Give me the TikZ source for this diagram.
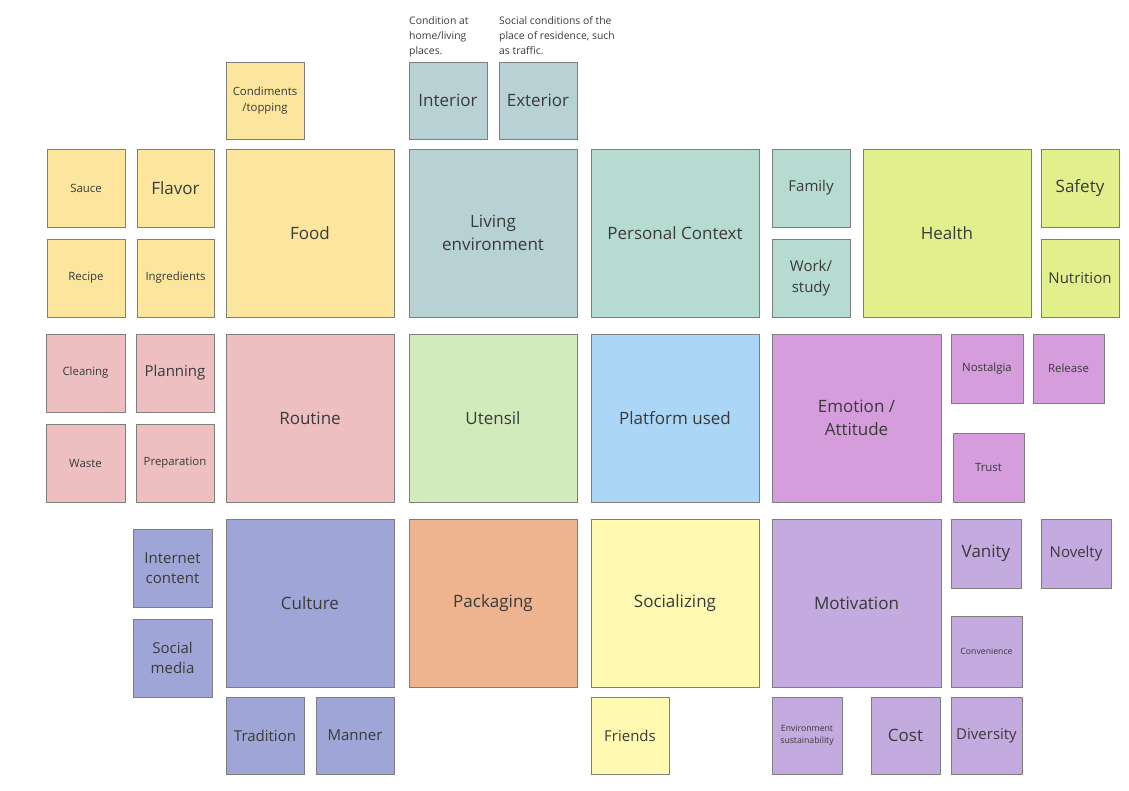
\documentclass[tikz,border=0pt]{standalone}
\usepackage{fontspec}
\setmainfont{Open Sans}
\definecolor{txt}{HTML}{3A3A3A}
\definecolor{cFood}{HTML}{FCE69D}
\definecolor{cLiv}{HTML}{B7D1D4}
\definecolor{cPers}{HTML}{B6DCD2}
\definecolor{cHealth}{HTML}{E2EF8D}
\definecolor{cRout}{HTML}{EDBFC1}
\definecolor{cUten}{HTML}{D2EBBA}
\definecolor{cPlat}{HTML}{ABD6F6}
\definecolor{cEmo}{HTML}{D59DDC}
\definecolor{cCult}{HTML}{A0A5D7}
\definecolor{cPack}{HTML}{EEB48F}
\definecolor{cSoc}{HTML}{FFF9B1}
\definecolor{cMot}{HTML}{C3AADF}
\definecolor{cBord}{HTML}{7E7E7A}
\newcommand\bx[7]{\node[box,#6,minimum width={(#4-#2)*1pt},minimum height={(#5-#3)*1pt}] (#1) at ({(#2+#4)/2},{(#3+#5)/2}) {#7};}
\begin{document}
\begin{tikzpicture}[x=1pt,y=-1pt,
  box/.style={draw=cBord,line width=0.9pt,inner sep=0pt,outer sep=0pt,align=center,text=txt},
  fL/.style={font=\fontsize{17}{23.5}\selectfont},
  fM/.style={font=\fontsize{15}{20.5}\selectfont},
  fS/.style={font=\fontsize{11.4}{16}\selectfont},
  fT/.style={font=\fontsize{8.7}{11.7}\selectfont},
  captext/.style={anchor=base west,inner sep=0pt,align=left,text=txt,font=\fontsize{10.4}{15.3}\selectfont}]
\useasboundingbox (0,0) rectangle (1129,791);
% captions
\node[captext] (capint) at (409,55) {Condition at\\home/living\\places.};
\node[captext] (capext) at (499,55) {Social conditions of the\\place of residence, such\\as traffic.};
% row 0
\bx{condiments}{226}{62}{304}{139}{fill=cFood,fS}{Condiments\\/topping}
\bx{interior}{409}{62}{487}{139}{fill=cLiv,fL}{Interior}
\bx{exterior}{499}{62}{577}{139}{fill=cLiv,fL}{Exterior}
% row 1
\bx{sauce}{47}{149}{125}{227}{fill=cFood,fS}{Sauce}
\bx{flavor}{137}{149}{214}{227}{fill=cFood,fL}{Flavor}
\bx{recipe}{47}{239}{125}{317}{fill=cFood,fS}{Recipe}
\bx{ingredients}{137}{239}{214}{317}{fill=cFood,fS}{Ingredients}
\bx{food}{226}{149}{394}{317}{fill=cFood,fL}{Food}
\bx{living}{409}{149}{577}{317}{fill=cLiv,fL}{Living\\environment}
\bx{personal}{591}{149}{759}{317}{fill=cPers,fL}{Personal Context}
\bx{family}{772}{149}{850}{227}{fill=cPers,fM}{Family}
\bx{work}{772}{239}{850}{317}{fill=cPers,fM}{Work/\\study}
\bx{health}{863}{149}{1031}{317}{fill=cHealth,fL}{Health}
\bx{safety}{1041}{149}{1119}{227}{fill=cHealth,fL}{Safety}
\bx{nutrition}{1041}{239}{1119}{317}{fill=cHealth,fM}{Nutrition}
% row 2
\bx{cleaning}{46}{334}{125}{412}{fill=cRout,fS}{Cleaning}
\bx{planning}{136}{334}{214}{412}{fill=cRout,fM}{Planning}
\bx{waste}{46}{424}{125}{502}{fill=cRout,fS}{Waste}
\bx{preparation}{136}{424}{214}{502}{fill=cRout,fS}{Preparation}
\bx{routine}{226}{334}{394}{502}{fill=cRout,fL}{Routine}
\bx{utensil}{409}{334}{577}{502}{fill=cUten,fL}{Utensil}
\bx{platform}{591}{334}{759}{502}{fill=cPlat,fL}{Platform used}
\bx{emotion}{772}{334}{941}{502}{fill=cEmo,fL}{Emotion /\\Attitude}
\bx{nostalgia}{951}{334}{1023}{403}{fill=cEmo,fS}{Nostalgia}
\bx{release}{1033}{334}{1104}{403}{fill=cEmo,fS}{Release}
\bx{trust}{953}{433}{1024}{502}{fill=cEmo,fS}{Trust}
% row 3
\bx{internet}{133}{529}{212}{607}{fill=cCult,fM}{Internet\\content}
\bx{social}{133}{619}{212}{697}{fill=cCult,fM}{Social\\media}
\bx{culture}{226}{519}{394}{687}{fill=cCult,fL}{Culture}
\bx{packaging}{409}{519}{577}{687}{fill=cPack,fL}{Packaging}
\bx{socializing}{591}{519}{759}{687}{fill=cSoc,fL}{Socializing}
\bx{motivation}{772}{519}{941}{687}{fill=cMot,fL}{Motivation}
\bx{vanity}{951}{519}{1021}{588}{fill=cMot,fL}{Vanity}
\bx{novelty}{1041}{519}{1111}{588}{fill=cMot,fM}{Novelty}
\bx{convenience}{951}{616}{1022}{687}{fill=cMot,fT}{Convenience}
% row 4
\bx{tradition}{226}{697}{304}{774}{fill=cCult,fM}{Tradition}
\bx{manner}{316}{697}{394}{774}{fill=cCult,fM}{Manner}
\bx{friends}{591}{697}{669}{774}{fill=cSoc,fM}{Friends}
\bx{envsus}{772}{697}{842}{774}{fill=cMot,fT}{Environment\\sustainability}
\bx{cost}{871}{697}{940}{774}{fill=cMot,fL}{Cost}
\bx{diversity}{951}{697}{1022}{774}{fill=cMot,fM}{Diversity}
\end{tikzpicture}
\end{document}
